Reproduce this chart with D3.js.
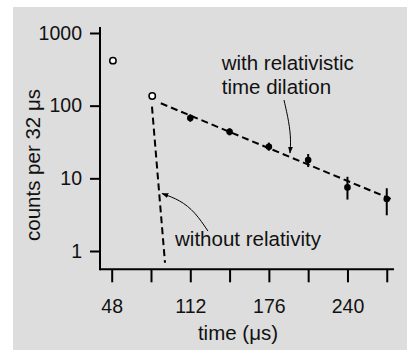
<!DOCTYPE html>
<html><head><meta charset="utf-8">
<script src="https://cdn.jsdelivr.net/npm/d3@7"></script>
<style>
html,body{margin:0;padding:0;background:#fff;}
svg{display:block;font-family:"Liberation Sans",Arial,sans-serif;}
</style></head>
<body>
<svg id="c" width="413" height="352"></svg>
<script>
// ---- data ----
const openTimes = [49, 81];
const openCounts = [416, 136];
const times = [112, 144, 176, 208, 240, 272];
const counts = [67.6, 43.8, 27.2, 17.9, 7.5, 5.2];
const errLow = [60, 39, 24, 14.3, 5.1, 3.1];
const errHigh = [76, 49, 31, 21.6, 10.5, 7.3];
const relFitT = [88, 277.4];
const relFitC = [107.8, 5.03];
const classicT = [80.8, 91.4];
const classicC = [96.8, 0.69];
const yTicks = [1, 10, 100, 1000];
const xTicks = [48, 80, 112, 144, 176, 208, 240, 272];
const xLabels = [48, 112, 176, 240];
const arrowRelT = [188.3, 192.4, 194.0, 193.2];
const arrowRelC = [119.6, 59.6, 33.7, 22.3];
const arrowClaT = [126.4, 115.9, 103.6, 89.0];
const arrowClaC = [1.88, 3.44, 5.03, 6.18];

const svg = d3.select("#c");
svg.append("rect").attr("x",13).attr("y",7).attr("width",394).attr("height",343).attr("fill","#dddddd");

const x = d3.scaleLinear().domain([38.47, 277.9]).range([100, 394]);
const y = d3.scaleLog().domain([0.56, 1209]).range([269.3, 27]);

const defs = svg.append("defs");
defs.append("marker").attr("id","ah").attr("viewBox","0 0 10 10").attr("refX",9).attr("refY",5)
  .attr("markerWidth",7).attr("markerHeight",7).attr("orient","auto")
  .append("path").attr("d","M0,1.5L10,5L0,8.5Z").attr("fill","#000");

// axes
const yAxis = d3.axisLeft(y).tickValues(yTicks).tickSize(10).tickSizeOuter(0).tickPadding(8)
  .tickFormat(d3.format("d"));
const gy = svg.append("g").attr("transform","translate(100,0)").call(yAxis);
const xAxis = d3.axisBottom(x).tickValues(xTicks).tickSize(13).tickSizeOuter(0).tickPadding(17)
  .tickFormat(d => xLabels.includes(d) ? d : "");
const gx = svg.append("g").attr("transform","translate(0,269.3)").call(xAxis);
[gx, gy].forEach(g => {
  g.selectAll("path.domain").attr("stroke","#000").attr("stroke-width",2);
  g.selectAll(".tick line").attr("stroke","#000").attr("stroke-width",2);
  g.selectAll(".tick text").attr("fill","#111").attr("font-size",19.5)
    .attr("font-family","Liberation Sans, Arial, sans-serif");
});
gx.select("path.domain").attr("d","M100,0H394");
gy.select("path.domain").attr("d","M0,27V270.3");

svg.append("text").attr("x",238).attr("y",340).attr("text-anchor","middle")
  .attr("font-size",20.5).attr("fill","#111").text("time (μs)");
svg.append("text").attr("transform","translate(39.5,165) rotate(-90)").attr("text-anchor","middle")
  .attr("font-size",20.5).attr("fill","#111").text("counts per 32 μs");

// fit lines
const line = d3.line().x(d => x(d[0])).y(d => y(d[1]));
svg.append("path").datum(relFitT.map((t,i)=>[t, relFitC[i]])).attr("d", line)
  .attr("fill","none").attr("stroke","#000").attr("stroke-width",2).attr("stroke-dasharray","7,4");
svg.append("path").datum(classicT.map((t,i)=>[t, classicC[i]])).attr("d", line)
  .attr("fill","none").attr("stroke","#000").attr("stroke-width",2).attr("stroke-dasharray","7,4");

// error bars + points
svg.selectAll("line.err").data(times).enter().append("line")
  .attr("x1", d => x(d)).attr("x2", d => x(d))
  .attr("y1", (d,i) => y(errLow[i])).attr("y2", (d,i) => y(errHigh[i]))
  .attr("stroke","#000").attr("stroke-width",2);
svg.selectAll("circle.pt").data(times).enter().append("circle")
  .attr("cx", d => x(d)).attr("cy", (d,i) => y(counts[i])).attr("r",3.3).attr("fill","#000");
svg.selectAll("circle.op").data(openTimes).enter().append("circle")
  .attr("cx", d => x(d)).attr("cy", (d,i) => y(openCounts[i])).attr("r",3.2)
  .attr("fill","#fff").attr("stroke","#000").attr("stroke-width",1.5);

// annotations
const curve = d3.line().x(d => x(d[0])).y(d => y(d[1])).curve(d3.curveBasis);
svg.append("path").datum(arrowRelT.map((t,i)=>[t, arrowRelC[i]])).attr("d", curve)
  .attr("fill","none").attr("stroke","#000").attr("stroke-width",1).attr("marker-end","url(#ah)");
svg.append("path").datum(arrowClaT.map((t,i)=>[t, arrowClaC[i]])).attr("d", curve)
  .attr("fill","none").attr("stroke","#000").attr("stroke-width",1).attr("marker-end","url(#ah)");

svg.append("text").attr("x", x(137.6)).attr("y", y(309.6)).attr("font-size",20.5).attr("fill","#111")
  .text("with relativistic");
svg.append("text").attr("x", x(137.6)).attr("y", y(144.6)).attr("font-size",20.5).attr("fill","#111")
  .text("time dilation");
svg.append("text").attr("x", x(99.6)).attr("y", y(1.17)).attr("font-size",20.5).attr("fill","#111")
  .text("without relativity");
</script>
</body></html>
